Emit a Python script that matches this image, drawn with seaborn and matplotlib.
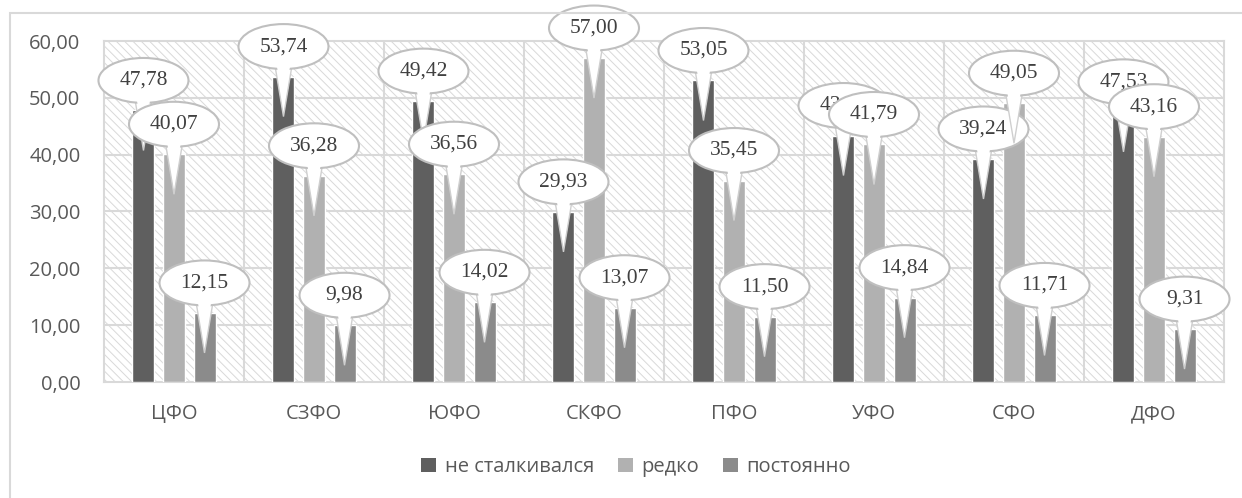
import matplotlib
matplotlib.use("Agg")
import matplotlib.pyplot as plt
import matplotlib.transforms as mtransforms
from matplotlib.patches import Ellipse, Polygon, Rectangle, Patch
import seaborn as sns
import pandas as pd

regions = ["ЦФО", "СЗФО", "ЮФО", "СКФО", "ПФО", "УФО", "СФО", "ДФО"]
series_names = ["не сталкивался", "редко", "постоянно"]
never = [47.78, 53.74, 49.42, 29.93, 53.05, 43.37, 39.24, 47.53]
rarely = [40.07, 36.28, 36.56, 57.00, 35.45, 41.79, 49.05, 43.16]
always = [12.15, 9.98, 14.02, 13.07, 11.50, 14.84, 11.71, 9.31]
colors = ["#5f5f5f", "#b1b1b1", "#8b8b8b"]

rows = []
for name, vals in zip(series_names, [never, rarely, always]):
    for r, v in zip(regions, vals):
        rows.append({"region": r, "series": name, "value": v})
df = pd.DataFrame(rows)

sns.set_theme(style="white")
plt.rcParams["font.family"] = ["Open Sans", "DejaVu Sans"]
plt.rcParams["hatch.linewidth"] = 0.7
plt.rcParams["hatch.color"] = "#d9d9d9"

DPI = 100
fig = plt.figure(figsize=(12.42, 4.98), dpi=DPI)
ax = fig.add_axes([104 / 1242, 1 - 382 / 498, (1224 - 104) / 1242, (382 - 41) / 498])

# chart-area border (cropped on right and bottom)
fig.add_artist(Rectangle((10 / 1242, -0.05), 1.1, 1 - 13 / 498 + 0.05,
                         transform=fig.transFigure, fill=False,
                         edgecolor="#d9d9d9", linewidth=1.5))

# hatched plot-area background
ax.add_patch(Rectangle((0, 0), 1, 1, transform=ax.transAxes, facecolor="white",
                       edgecolor="#d9d9d9", hatch="\\\\\\\\", linewidth=0, zorder=0))

group_w = 0.654
sns.barplot(data=df, x="region", y="value", hue="series", order=regions,
            hue_order=series_names, palette=colors, width=group_w, gap=0.28,
            ax=ax, legend=False, errorbar=None, saturation=1, zorder=3)

ax.set_xlim(-0.5, len(regions) - 0.5)
ax.set_ylim(0, 60)
ax.set_yticks(range(0, 61, 10))
ax.set_yticklabels([f"{t:.2f}".replace(".", ",") for t in range(0, 61, 10)])
for t in range(10, 60, 10):
    ax.axhline(t, color="#d9d9d9", linewidth=1.5, zorder=1)
for k in range(1, len(regions)):
    ax.axvline(k - 0.5, color="#d9d9d9", linewidth=1.5, zorder=1)
for sp in ax.spines.values():
    sp.set_color("#d9d9d9")
    sp.set_linewidth(1.5)
ax.set_xlabel("")
ax.set_ylabel("")
ax.tick_params(axis="y", length=0, pad=17, labelsize=14.5, labelcolor="#595959")
ax.tick_params(axis="x", length=0, pad=16, labelsize=14.5, labelcolor="#595959")

# callouts
step = group_w / 3
for s, vals in enumerate([never, rarely, always]):
    for i, v in enumerate(vals):
        x = i + (s - 1) * step
        tr = fig.dpi_scale_trans + mtransforms.ScaledTranslation(x, v, ax.transData)
        z = 10 + s
        tail = [(-0.10, 0.20), (0.10, 0.20), (0.0, -0.40)]
        ax.add_patch(Polygon(tail, closed=True, transform=tr, facecolor="white",
                             edgecolor="#cfcfcf", linewidth=1.0, zorder=z + 0.01,
                             clip_on=False))
        ax.add_patch(Ellipse((0, 0.30), 0.90, 0.45, transform=tr, facecolor="white",
                             edgecolor="#bfbfbf", linewidth=1.5, zorder=z + 0.02,
                             clip_on=False))
        cover = [(-0.085, 0.22), (0.085, 0.22), (0.0, -0.30)]
        ax.add_patch(Polygon(cover, closed=True, transform=tr, facecolor="white",
                             edgecolor="none", zorder=z + 0.03, clip_on=False))
        ax.text(0, 0.30, f"{v:.2f}".replace(".", ","), transform=tr,
                ha="center", va="center", fontsize=15.5, color="#404040",
                family=["Liberation Serif", "DejaVu Serif"], zorder=z + 0.04,
                clip_on=False)

handles = [Patch(facecolor=c, edgecolor="none") for c in colors]
fig.legend(handles, series_names, loc="center", ncol=3,
           bbox_to_anchor=(636 / 1242, 1 - 467 / 498), frameon=False,
           fontsize=14.5, labelcolor="#595959", handlelength=0.75, handleheight=0.75,
           handletextpad=0.4, columnspacing=1.2)

fig.savefig("out.png", dpi=DPI, facecolor="white")
